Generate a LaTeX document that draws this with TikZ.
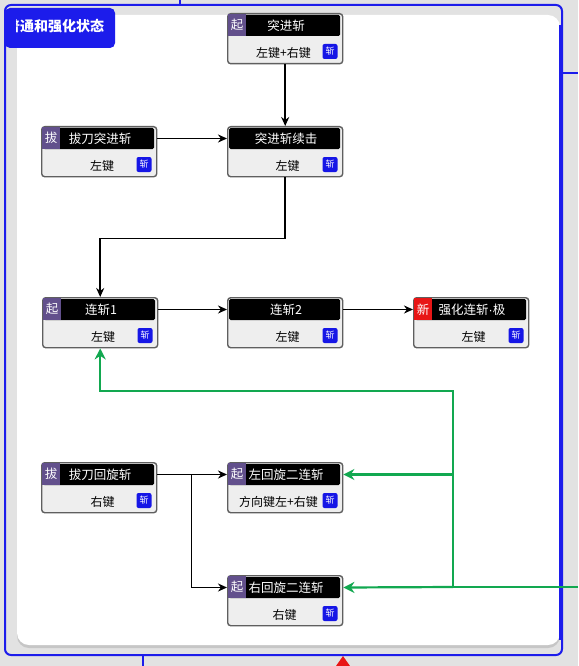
\documentclass[tikz,border=0pt]{standalone}
\usepackage{fontspec}
\setmainfont{Noto Sans CJK SC}
\newfontfamily\latinfont{Liberation Sans}
\usetikzlibrary{arrows.meta,calc}
\definecolor{frameblue}{RGB}{28,28,235}
\definecolor{badgepurple}{RGB}{98,80,140}
\definecolor{badgered}{RGB}{232,22,22}
\definecolor{zhanblue}{RGB}{22,22,230}
\definecolor{linkgreen}{RGB}{18,168,80}
\definecolor{boxborder}{RGB}{95,95,95}
\definecolor{boxfill}{RGB}{238,238,238}
\definecolor{checker}{RGB}{226,226,226}
\tikzset{
  box/.style={draw=boxborder, line width=1.4pt, rounded corners=3pt, fill=boxfill,
    minimum width=115pt, minimum height=50pt, inner sep=0pt},
  titlebar/.style={fill=black, rounded corners=1.5pt},
  badge/.style={text=white, minimum width=18pt, minimum height=22pt, inner sep=0pt, font=\fontsize{12.5}{12.5}\selectfont},
  titletext/.style={text=white, inner sep=0pt, font=\fontsize{12.5}{12.5}\selectfont},
  keytext/.style={text=black, inner sep=0pt, font=\fontsize{12}{12}\selectfont},
  zhan/.style={fill=zhanblue, text=white, rounded corners=2pt, minimum width=15pt, minimum height=15pt, inner sep=0pt, font=\fontsize{9}{9}\selectfont},
  arr/.style={draw=black, line width=1.6pt, -{Stealth[length=9pt,width=8pt]}},
  garr/.style={draw=linkgreen, line width=2.2pt, -{Stealth[length=11pt,width=11pt]}},
  gline/.style={draw=linkgreen, line width=2.2pt},
}
\newcommand{\skillbox}[8]{%
  \node[box, anchor=north west] (#1) at (#2,#3) {};
  \fill[titlebar] ({#2+2},{#3+2}) rectangle ({#2+113},{#3+23});
  \def\badgetmp{#4}%
  \ifx\badgetmp\empty\else
    \node[badge, fill=#5, anchor=north west] (#1-b) at ({#2+1},{#3+1}) {#4};
  \fi
  \node[titletext] (#1-t) at ({#2+59},{#3+12.5}) {#6};
  \node[keytext] (#1-k) at ({#2+57.5+#8},{#3+39.5}) {#7};
  \node[zhan] (#1-z) at ({#2+103},{#3+38.5}) {斩};
}
\begin{document}
\begin{tikzpicture}[x=1pt, y=-1pt]
\useasboundingbox (0,0) rectangle (578,666);
% background
\fill[checker] (0,0) rectangle (578,666);
% editor artifacts
\draw[frameblue, line width=1.5pt] (180,0) -- (180,5);
\draw[frameblue, line width=1.5pt] (143,655) -- (143,666);
\draw[frameblue, line width=1.5pt] (562,73) -- (578,73);
\fill[badgered] (336,666) -- (343,656) -- (350,666) -- cycle;
% frame
\draw[frameblue, line width=2pt, rounded corners=6pt] (5,5) rectangle (562,655);
\fill[gray!45, rounded corners=12pt] (17,17) rectangle (560,648);
\fill[white, rounded corners=12pt] (17,15) rectangle (560,645);
\draw[frameblue, line width=2pt] (560,25) -- (560,640);
% title tab
\begin{scope}
  \fill[frameblue, rounded corners=5pt] (5,8) rectangle (115,48);
  \clip (16,8) rectangle (115,48);
  \node[text=white, inner sep=0pt, anchor=west, font=\fontsize{14}{14}\selectfont\bfseries] (tab) at (6,26) {普通和强化状态};
\end{scope}
% skill boxes
\skillbox{n1}{227}{13}{起}{badgepurple}{突进斩}{左键+右键}{-1}
\skillbox{n2}{41}{126}{拔}{badgepurple}{拔刀突进斩}{左键}{3.5}
\skillbox{n3}{227}{126}{}{}{突进斩续击}{左键}{3}
\skillbox{n4}{42}{297}{起}{badgepurple}{连斩1}{左键}{3.5}
\skillbox{n5}{227}{297}{}{}{连斩2}{左键}{3}
\skillbox{n6}{413}{297}{新}{badgered}{强化连斩{\latinfont ·}极}{左键}{3}
\skillbox{n7}{41}{462}{拔}{badgepurple}{拔刀回旋斩}{右键}{4}
\skillbox{n8}{227}{462}{起}{badgepurple}{左回旋二连斩}{方向键左+右键}{-6}
\skillbox{n9}{227}{575}{起}{badgepurple}{右回旋二连斩}{右键}{0}
% black connectors
\draw[arr] (n1.south) -- (n3.north);
\draw[arr] (n2.east |- n2-t) -- (n3.west |- n3-t);
\draw[arr] (n3.south) -- ++(0,61) -| (n4.north);
\draw[arr] (n4.east |- n4-t) -- (n5.west |- n5-t);
\draw[arr] (n5.east |- n5-t) -- (n6.west |- n6-t);
\draw[arr] (n7.east |- n7-t) -- (n8.west |- n8-t);
\draw[arr] (n7.east |- n7-t) -- ++(34,0) |- (n9.west |- n9-t);
% green connectors
\coordinate (gin) at (578,587);
\coordinate (gj) at (453,587);
\draw[garr] (gj) -- (n9.east |- n9-t);
\draw[gline] (gin) -- (gj);
\draw[garr] (gj |- n8-t) -- (n8.east |- n8-t);
\draw[garr] (gj) -- (gj |- 0,391) -| (n4.south);
\end{tikzpicture}
\end{document}
